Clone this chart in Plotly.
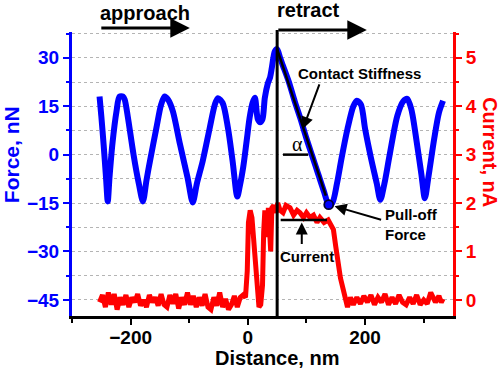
import plotly.graph_objects as go

# ---------------- data ----------------
force_x = [-253, -250, -246, -242, -239, -236, -231, -224, -219, -213, -210, -205, -195, -186,
           -179, -173, -167, -156, -148, -142, -136, -128, -116, -103, -94, -87, -77, -65,
           -56, -51, -43, -34, -26, -18, -14, -8, -2, 3, 8, 12, 17, 21, 25, 29, 34, 38, 41,
           46, 50, 55, 60, 70, 80, 90, 100, 110, 120, 130, 138, 144, 152, 160, 170, 180,
           186, 193, 200, 210, 220, 226, 233, 242, 255, 265, 272, 279, 288, 296, 302, 308,
           318, 326, 333]
force_nN = [18, 12, 3, -7, -14.5, -7, 3.4, 13.5, 18, 18, 17, 12, 0, -9,
            -14.5, -8, -2, 8.3, 15.5, 18, 17, 13.5, 3.4, -7, -14.8, -9, -2, 8.3,
            15.7, 17.5, 16, 8.3, -2, -13, -10, -4, 4.3, 11.4, 16, 17.6, 11, 10, 11, 17.6, 22, 24, 27,
            32, 32.7, 30, 27.5, 22.5, 16.5, 11, 5, -0.5, -6, -11.5, -15.5, -15, -9, -1, 8, 15,
            16.7, 15.5, 8, -1, -9, -14, -9, 0, 12, 16.5, 17.3, 14, 4, -6, -13.5, -7,
            5, 13, 16.7]

current_x = [-253, -248, -243, -238, -233, -228, -223, -218, -213, -208, -203, -198, -193, -188,
             -183, -178, -173, -168, -163, -158, -153, -148, -143, -138, -133, -128, -123, -118,
             -113, -108, -103, -98, -93, -88, -83, -78, -73, -68, -63, -58, -53, -48, -43, -38,
             -33, -28, -23, -18, -13, -8, -4, -1, 1, 4, 7, 10, 13, 16, 19, 22, 25, 27, 29, 31,
             33, 35, 37, 39, 41, 44, 48, 51, 55, 60, 65, 72, 78, 84, 89, 95, 100, 106, 112,
             118, 123, 130, 137, 142, 146, 150, 154, 158, 163, 167, 170, 175, 180, 186, 192,
             198, 204, 210, 216, 222, 228, 234, 240, 246, 252, 258, 264, 270, 276, 282, 288,
             294, 300, 306, 312, 316, 320, 326, 330, 333]
current_nA = [-0.05, 0.1, -0.15, 0.15, -0.1, 0.12, -0.2, 0.05, -0.1, 0.1, -0.15, 0.05, -0.05, 0.12,
              -0.12, 0.0, -0.15, 0.1, -0.05, 0.05, -0.12, 0.12, -0.1, -0.15, 0.1, -0.08, 0.12, -0.18,
              0.05, -0.1, 0.15, -0.1, 0.08, -0.15, 0.05, -0.12, 0.12, -0.15, -0.2, 0.05, -0.12, 0.15, -0.15, 0.02,
              -0.2, -0.1, 0.08, -0.15, 0.05, 0.1, 0.05, 0.6, 1.6, 1.85, 1.7, 1.2, 0.5, 0.1, -0.15, -0.1, 0.3, 1.4, 1.85, 1.6,
              1.3, 1.9, 1.5, 1.0, 1.9, 1.95, 1.8, 2.0, 1.85, 1.8, 1.95, 1.9, 1.75, 1.85, 1.8, 1.7, 1.8, 1.7, 1.75,
              1.6, 1.7, 1.6, 1.65, 1.55, 1.45, 1.1, 0.76, 0.45, 0.2, 0.0, -0.15, 0.05, -0.1, 0.05, -0.08,
              0.08, -0.05, 0.1, -0.1, 0.05, -0.05, 0.12, -0.1, 0.05, -0.08, 0.1, -0.05, -0.1, 0.05, -0.08, 0.1,
              -0.1, 0.0, -0.08, 0.15, 0.05, -0.05, 0.08, -0.05, 0.02]

pulloff_x = [138]
pulloff_nN = [-15.5]

contact_x = 50          # nm, contact point (vertical line)
contact_top = 32.7      # nN
stiff_end = (133, -12.7)
current_level = 1.65    # nA
current_span = (56, 135)

force_ticks = dict(dtick=15, tick0=0)
current_ticks = dict(dtick=1, tick0=0)
x_ticks = dict(dtick=200, tick0=0)

# ---------------- figure ----------------
BLUE = "#0000FF"
RED = "#FF0000"
FONT = "Liberation Sans, Arial, sans-serif"
GRID = "#b4b4b4"

fig = go.Figure()
fig.add_trace(go.Scatter(x=force_x, y=force_nN, mode="lines",
                         line=dict(color=BLUE, width=6, shape="spline", smoothing=0.8),
                         yaxis="y", hoverinfo="skip"))
fig.add_trace(go.Scatter(x=current_x, y=current_nA, mode="lines",
                         line=dict(color=RED, width=5),
                         yaxis="y2", hoverinfo="skip"))
fig.add_trace(go.Scatter(x=pulloff_x, y=pulloff_nN, mode="markers",
                         marker=dict(color=BLUE, size=9, line=dict(color="#000033", width=1.8)),
                         yaxis="y", hoverinfo="skip"))

fig.update_layout(
    width=500, height=370,
    margin=dict(l=72, r=47, t=32, b=54),
    plot_bgcolor="white", paper_bgcolor="white",
    showlegend=False,
    font=dict(family=FONT),
    xaxis=dict(range=[-300, 350], **x_ticks, ticks="outside", ticklen=6, tickwidth=2,
               tickcolor="black", showline=True, linecolor="black", linewidth=3,
               showgrid=False, zeroline=False, ticklabelstandoff=-4,
               tickfont=dict(family=FONT, size=19, color="black", weight="bold"),
               minor=dict(dtick=100, tick0=0, ticks="outside", ticklen=4, tickwidth=2,
                          tickcolor="black", showgrid=False)),
    yaxis=dict(range=[-50, 38], **force_ticks, ticks="outside", ticklen=6, tickwidth=2,
               tickcolor=BLUE, showline=True, linecolor=BLUE, linewidth=3,
               showgrid=True, gridcolor=GRID, griddash="dot", gridwidth=1, zeroline=False,
               tickfont=dict(family=FONT, size=19, color=BLUE, weight="bold"),
               minor=dict(dtick=7.5, tick0=0, ticks="outside", ticklen=3, tickwidth=2,
                          tickcolor=BLUE, showgrid=True, gridcolor=GRID, griddash="dot",
                          gridwidth=1)),
    yaxis2=dict(range=[-1/3, 5 + 8/15], overlaying="y", side="right", **current_ticks,
                ticks="outside", ticklen=6, tickwidth=2, tickcolor=RED,
                showline=True, linecolor=RED, linewidth=3, showgrid=False, zeroline=False,
                tickfont=dict(family=FONT, size=19, color=RED, weight="bold"),
                minor=dict(dtick=0.5, tick0=0, ticks="outside", ticklen=3, tickwidth=2,
                           tickcolor=RED, showgrid=False)),
)

# contact / retract shapes
fig.add_shape(type="line", xref="x", yref="paper", x0=contact_x, x1=contact_x, y0=0, y1=1.007,
              line=dict(color="black", width=3))
fig.add_shape(type="line", xref="x", yref="y", x0=contact_x, y0=contact_top,
              x1=stiff_end[0], y1=stiff_end[1], line=dict(color="black", width=2.5))
fig.add_shape(type="line", xref="x", yref="y", x0=60, y0=0, x1=103, y1=0,
              line=dict(color="black", width=2.5))
fig.add_shape(type="line", xref="x", yref="y2", x0=current_span[0], y0=current_level,
              x1=current_span[1], y1=current_level, line=dict(color="black", width=2.5))

bold = dict(family=FONT, color="black", weight="bold")
ann = []
# approach / retract arrows
ann.append(dict(xref="x", yref="paper", x=-99, y=1.014, ax=-90, ay=0, showarrow=True,
                arrowhead=2, arrowsize=1.3, arrowwidth=3, arrowcolor="black", text=""))
ann.append(dict(xref="x", yref="paper", x=203, y=1.007, ax=-90, ay=0, showarrow=True,
                arrowhead=2, arrowsize=1.3, arrowwidth=3, arrowcolor="black", text=""))
ann.append(dict(xref="x", yref="paper", x=-175, y=1.067, text="approach", showarrow=False,
                font=dict(size=20, **bold), xanchor="center", yanchor="middle"))
ann.append(dict(xref="x", yref="paper", x=104, y=1.077, text="retract", showarrow=False,
                font=dict(size=20, **bold), xanchor="center", yanchor="middle"))
# contact stiffness
ann.append(dict(xref="x", yref="y", x=191, y=25, text="Contact Stiffness", showarrow=False,
                font=dict(size=15, **bold), xanchor="center", yanchor="middle"))
ann.append(dict(xref="x", yref="y", x=94, y=8, ax=17, ay=-46, showarrow=True, text="",
                arrowhead=2, arrowsize=1.2, arrowwidth=2, arrowcolor="black"))
ann.append(dict(xref="x", yref="y", x=84, y=3.4, text="α", showarrow=False,
                font=dict(size=20, family="Liberation Serif, Times New Roman, serif", color="black"),
                xanchor="center", yanchor="middle"))
# pull-off
ann.append(dict(xref="x", yref="y", x=148, y=-16, ax=48, ay=14, showarrow=True, text="",
                arrowhead=2, arrowsize=1.2, arrowwidth=2, arrowcolor="black"))
ann.append(dict(xref="x", yref="y", x=230, y=-15.3, text="Pull-off<br>Force", showarrow=False,
                font=dict(size=15, **bold), xanchor="left", yanchor="top", align="left"))
# current
ann.append(dict(xref="x", yref="y2", x=92, y=1.6, ax=0, ay=23, showarrow=True, text="",
                arrowhead=2, arrowsize=1.2, arrowwidth=2, arrowcolor="black"))
ann.append(dict(xref="x", yref="y2", x=101, y=0.9, text="Current", showarrow=False,
                font=dict(size=15, **bold), xanchor="center", yanchor="middle"))
# axis titles
ann.append(dict(xref="paper", yref="paper", x=-0.157, y=0.567, text="Force, nN", showarrow=False,
                textangle=-90, font=dict(size=21, family=FONT, color=BLUE, weight="bold"),
                xanchor="center", yanchor="middle"))
ann.append(dict(xref="paper", yref="paper", x=1.097, y=0.577, text="Current, nA", showarrow=False,
                textangle=90, font=dict(size=20, family=FONT, color=RED, weight="bold"),
                xanchor="center", yanchor="middle"))
ann.append(dict(xref="paper", yref="paper", x=0.538, y=-0.148, text="Distance, nm", showarrow=False,
                font=dict(size=20, family=FONT, color="black", weight="bold"),
                xanchor="center", yanchor="middle"))
fig.update_layout(annotations=ann)

# remove the page's default 8px body margin so the figure sits at the window's corner
fig.write_html("out.html", config={"displayModeBar": False},
               post_script="document.body.style.margin='0px';")
